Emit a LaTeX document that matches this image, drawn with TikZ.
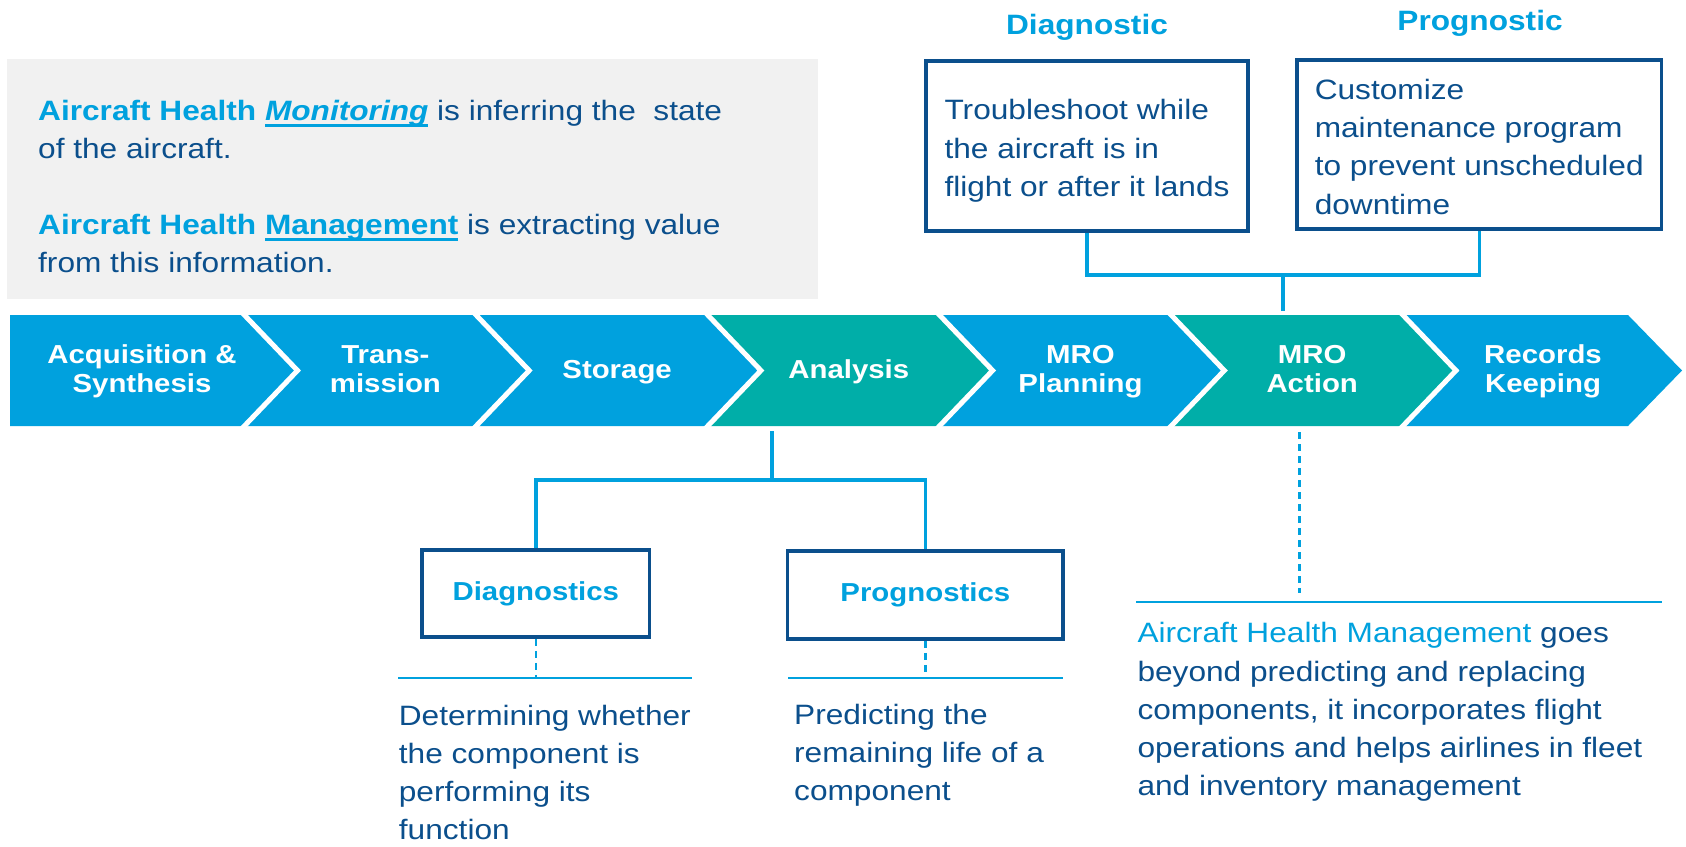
\documentclass[tikz,border=0pt]{standalone}
\usepackage{fontspec}
\setmainfont{Liberation Sans}[FakeStretch=1.13]
\definecolor{lb}{HTML}{00A1DE}
\definecolor{tl}{HTML}{00AEA8}
\definecolor{db}{HTML}{0B4F8C}
\definecolor{gb}{HTML}{F1F1F1}
\newcommand\ulbar[1]{\setbox0=\hbox{#1}\rlap{\rule[-6.5pt]{\wd0}{3pt}}\box0}
\begin{document}
\begin{tikzpicture}[x=1pt,y=-1pt,
  txt/.style={font=\fontsize{28}{38.3}\selectfont, text=db, align=left, inner sep=0pt},
  chevtxt/.style={font=\fontsize{26}{29.5}\selectfont\bfseries, text=white, align=center, inner sep=0pt, anchor=base},
  obox/.style={draw=db, line width=3.5pt, fill=white, font=\fontsize{26}{30}\selectfont\bfseries, text=lb, inner sep=0pt},
  tbox/.style={draw=db, line width=3.5pt, fill=white, font=\fontsize{28}{38.3}\selectfont, text=db, align=left, inner sep=0pt},
  hdr/.style={font=\fontsize{28}{32}\selectfont\bfseries, text=lb, inner sep=0pt},
  conn/.style={draw=lb, line width=3.5pt},
  hline/.style={draw=lb, line width=2.5pt},
  dline/.style={draw=lb, line width=2.5pt, dash pattern=on 7pt off 5pt}]
\useasboundingbox (0,0) rectangle (1686,846);
\fill[white] (0,0) rectangle (1686,846);

% grey info box
\fill[gb] (7,59) rectangle (818,299);
\node[txt, anchor=base west, font=\fontsize{28}{37.6}\selectfont] (gp1) at (38,158.3)
  {\textbf{\textcolor{lb}{Aircraft Health \ulbar{\textit{Monitoring}}}} is inferring the\ \ state\\of the aircraft.};
\node[txt, anchor=base west, font=\fontsize{28}{37.6}\selectfont] (gp2) at (38,272)
  {\textbf{\textcolor{lb}{Aircraft Health \ulbar{Management}}} is extracting value\\from this information.};

% chevrons
\fill[lb] (10,315) -- (241.5,315) -- (297.5,370.5) -- (241.5,426) -- (10,426) -- cycle;
\fill[lb] (241.5,315) -- (473.2,315) -- (529.2,370.5) -- (473.2,426) -- (241.5,426) -- (297.5,370.5) -- cycle;
\fill[lb] (473.2,315) -- (704.9,315) -- (760.9,370.5) -- (704.9,426) -- (473.2,426) -- (529.2,370.5) -- cycle;
\fill[tl] (704.9,315) -- (936.6,315) -- (992.6,370.5) -- (936.6,426) -- (704.9,426) -- (760.9,370.5) -- cycle;
\fill[lb] (936.6,315) -- (1168.3,315) -- (1224.3,370.5) -- (1168.3,426) -- (936.6,426) -- (992.6,370.5) -- cycle;
\fill[tl] (1168.3,315) -- (1400,315) -- (1456,370.5) -- (1400,426) -- (1168.3,426) -- (1224.3,370.5) -- cycle;
\fill[lb] (1400,315) -- (1628,315) -- (1682,370.5) -- (1628,426) -- (1400,426) -- (1456,370.5) -- cycle;
\foreach \k in {0,...,5}{
  \draw[white, line width=5pt] ({241.5+231.7*\k},312) -- ({297.5+231.7*\k},370.5) -- ({241.5+231.7*\k},429);
}
\node[chevtxt] (ch1) at (142,392.7) {Acquisition \&\\Synthesis};
\node[chevtxt] (ch2) at (385.4,392.7) {Trans-\\mission};
\node[chevtxt] (ch3) at (617.1,378) {Storage};
\node[chevtxt] (ch4) at (848.8,378) {Analysis};
\node[chevtxt] (ch5) at (1080.5,392.7) {MRO\\Planning};
\node[chevtxt] (ch6) at (1312.2,392.7) {MRO\\Action};
\node[chevtxt] (ch7) at (1543,392.7) {Records\\Keeping};

% top boxes
\node[hdr, anchor=base] (hd1) at (1087,34) {Diagnostic};
\node[hdr, anchor=base] (hd2) at (1480,30) {Prognostic};
\node[tbox, minimum width=322pt, minimum height=170pt] (tdiag) at (1087,146)
  {\rule{0pt}{30pt}Troubleshoot while\\the aircraft is in\\flight or after it lands};
\node[tbox, minimum width=364.5pt, minimum height=169pt] (tprog) at (1479.25,144.5)
  {\rule{0pt}{24.5pt}Customize\\maintenance program\\to prevent unscheduled\\downtime};
\coordinate (actT) at (1283,311);
\coordinate (hubT) at (1283,275);
\draw[conn] (actT) -- (hubT);
\draw[conn] (tdiag.south) |- (hubT) -| (tprog.south);

% analysis branch
\node[obox, minimum width=227.6pt, minimum height=87pt] (diagb) at (535.8,593.5) {Diagnostics};
\node[obox, minimum width=275.4pt, minimum height=88pt] (progb) at (925.3,595) {Prognostics};
\coordinate (anaB) at (772,431);
\coordinate (hubA) at (772,480);
\draw[conn] (anaB) -- (hubA);
\draw[conn] (diagb.north) |- (hubA) -| (progb.north);

\coordinate (uL1a) at (398,678);
\coordinate (uL1b) at (691.6,678);
\coordinate (uL2a) at (788,678);
\coordinate (uL2b) at (1063,678);
\draw[hline] (uL1a) -- (uL1b);
\draw[hline] (uL2a) -- (uL2b);
\draw[dline] (diagb.south) -- (diagb.south |- uL1a);
\draw[dline] (progb.south) -- (progb.south |- uL2a);

\node[txt, anchor=base west] (td1) at (398.7,839.9)
  {Determining whether\\the component is\\performing its\\function};
\node[txt, anchor=base west] (tp1) at (794,800.6)
  {Predicting the\\remaining life of a\\component};

% MRO action branch
\coordinate (actB) at (1299.4,432);
\coordinate (actE) at (1299.4,593);
\draw[dline] (actB) -- (actE);
\coordinate (uL3a) at (1136,602);
\coordinate (uL3b) at (1661.6,602);
\draw[hline] (uL3a) -- (uL3b);
\node[txt, anchor=base west] (tm1) at (1137.3,795.9)
  {\textcolor{lb}{Aircraft Health Management} goes\\beyond predicting and replacing\\components, it incorporates flight\\operations and helps airlines in fleet\\and inventory management};
\end{tikzpicture}
\end{document}
